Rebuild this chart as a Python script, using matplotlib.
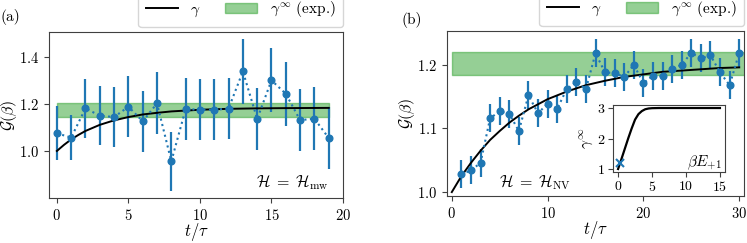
import numpy as np
import matplotlib
matplotlib.use("Agg")
import matplotlib.pyplot as plt
from matplotlib.lines import Line2D
from matplotlib.patches import Patch

plt.rcParams['font.family'] = 'cmr10'
plt.rcParams['mathtext.fontset'] = 'cm'
plt.rcParams['axes.formatter.use_mathtext'] = True
plt.rcParams['axes.unicode_minus'] = False

# ---- panel (a): H = H_mw ----
t_a = list(range(20))
g_a = [1.075, 1.057, 1.181, 1.150, 1.144, 1.188, 1.126, 1.202, 0.956, 1.178,
       1.175, 1.175, 1.180, 1.338, 1.136, 1.300, 1.243, 1.131, 1.137, 1.055]
err_a = [0.115, 0.097, 0.125, 0.125, 0.126, 0.130, 0.130, 0.132, 0.125, 0.130,
         0.130, 0.130, 0.130, 0.138, 0.133, 0.136, 0.135, 0.132, 0.133, 0.130]
# theory curve gamma(t)
tc_a = [0, 0.5, 1, 1.5, 2, 3, 4, 5, 6, 7, 8, 10, 12, 14, 16, 19]
gc_a = [1.000, 1.026, 1.049, 1.068, 1.085, 1.111, 1.130, 1.144, 1.155, 1.162,
        1.168, 1.175, 1.179, 1.181, 1.182, 1.183]
band_a = [1.143, 1.203]

# ---- panel (b): H = H_NV ----
t_b = list(range(1, 31))
g_b = [1.028, 1.034, 1.046, 1.116, 1.127, 1.123, 1.096, 1.152, 1.124, 1.139,
       1.131, 1.162, 1.173, 1.162, 1.218, 1.188, 1.187, 1.181, 1.200, 1.171,
       1.183, 1.182, 1.194, 1.200, 1.219, 1.210, 1.215, 1.188, 1.168, 1.219]
err_b = [0.022] * 30
tc_b = [0, 1, 2, 3, 4, 5, 6, 7, 8, 10, 12, 14, 16, 18, 20, 22, 24, 26, 28, 30]
gc_b = [1.000, 1.025, 1.046, 1.065, 1.082, 1.096, 1.109, 1.120, 1.130, 1.146,
        1.158, 1.168, 1.175, 1.181, 1.185, 1.189, 1.191, 1.193, 1.195, 1.196]
band_b = [1.184, 1.220]

# ---- inset: gamma_inf vs beta E_{+1} ----
be = [0, 0.5, 1, 1.5, 2, 2.5, 3, 3.5, 4, 4.5, 5, 6, 7, 8, 10, 12, 15]
ginf = [1.0, 1.33, 1.67, 2.01, 2.33, 2.62, 2.80, 2.90, 2.96, 2.985, 2.995,
        3.0, 3.0, 3.0, 3.0, 3.0, 3.0]
be_exp, ginf_exp = 0.35, 1.2

blue = '#1f77b4'
green = '#2ca02c'

fig = plt.figure(figsize=(7.47, 2.43), dpi=100)
ax_a = fig.add_axes([0.0656, 0.185, 0.3936, 0.683])
ax_b = fig.add_axes([0.5984, 0.193, 0.3976, 0.679])
ax_in = fig.add_axes([0.8206, 0.292, 0.150, 0.276])


def draw_panel(ax, t, g, err, tc, gc, band, band_x):
    ax.fill_between(band_x, band[0], band[1], color=green, alpha=0.5, lw=1)
    ax.errorbar(t, g, yerr=err, fmt='o:', color=blue, ms=4.8, elinewidth=1.6,
                lw=1.5, capsize=0)
    ax.plot(tc, gc, color='black', lw=1.4)
    ax.set_xlabel(r'$t/\tau$', fontsize=12, labelpad=-1)
    ax.set_ylabel(r'$\mathcal{G}(\beta)$', fontsize=11.5, labelpad=0)
    ax.tick_params(labelsize=10.5, color='0.25')
    for s in ax.spines.values():
        s.set_color('0.25')
    handles = [Line2D([], [], color='black', lw=1.4),
               Patch(facecolor=green, edgecolor=green, alpha=0.5)]
    ax.legend(handles, [r'$\gamma$', r'$\gamma^{\infty}$ (exp.)'], ncol=2,
              loc='lower right', bbox_to_anchor=(1.0, 1.03), borderaxespad=0,
              fontsize=11, handlelength=2.1, columnspacing=1.6,
              borderpad=0.5)


draw_panel(ax_a, t_a, g_a, err_a, tc_a, gc_a, band_a, [0, 19])
ax_a.set_xlim(-0.55, 20)
ax_a.set_ylim(0.80, 1.505)
ax_a.set_xticks([0, 5, 10, 15, 20])
ax_a.set_yticks([1.0, 1.2, 1.4])
ax_a.text(0.95, 0.035, r'$\mathcal{H}\;=\;\mathcal{H}_{\mathrm{mw}}$',
          transform=ax_a.transAxes, ha='right', va='bottom', fontsize=11.5)

draw_panel(ax_b, t_b, g_b, err_b, tc_b, gc_b, band_b, [0, 31])
ax_b.set_xlim(-0.5, 30.5)
ax_b.set_ylim(0.9937, 1.253)
ax_b.set_xticks([0, 10, 20, 30])
ax_b.set_yticks([1.0, 1.1, 1.2])
ax_b.text(0.175, 0.025, r'$\mathcal{H}\;=\;\mathcal{H}_{\mathrm{NV}}$',
          transform=ax_b.transAxes, ha='left', va='bottom', fontsize=11.5)

# inset
ax_in.plot(be, ginf, color='black', lw=1.6)
ax_in.plot([be_exp], [ginf_exp], 'x', color=blue, ms=6, mew=1.5)
ax_in.set_xticks([0, 5, 10, 15])
ax_in.set_yticks([1, 2, 3])
ax_in.tick_params(labelsize=10, color='0.25', pad=2)
for s in ax_in.spines.values():
    s.set_color('0.25')
ax_in.set_ylabel(r'$\gamma^{\infty}$', fontsize=11, labelpad=1)
ax_in.text(0.97, 0.0, r'$\beta E_{+1}$', transform=ax_in.transAxes,
           ha='right', va='bottom', fontsize=11)

fig.text(0.0, 0.93, '(a)', fontsize=11, va='center', ha='left')
fig.text(0.538, 0.918, '(b)', fontsize=11, va='center', ha='left')

fig.savefig('out.png', dpi=100)
